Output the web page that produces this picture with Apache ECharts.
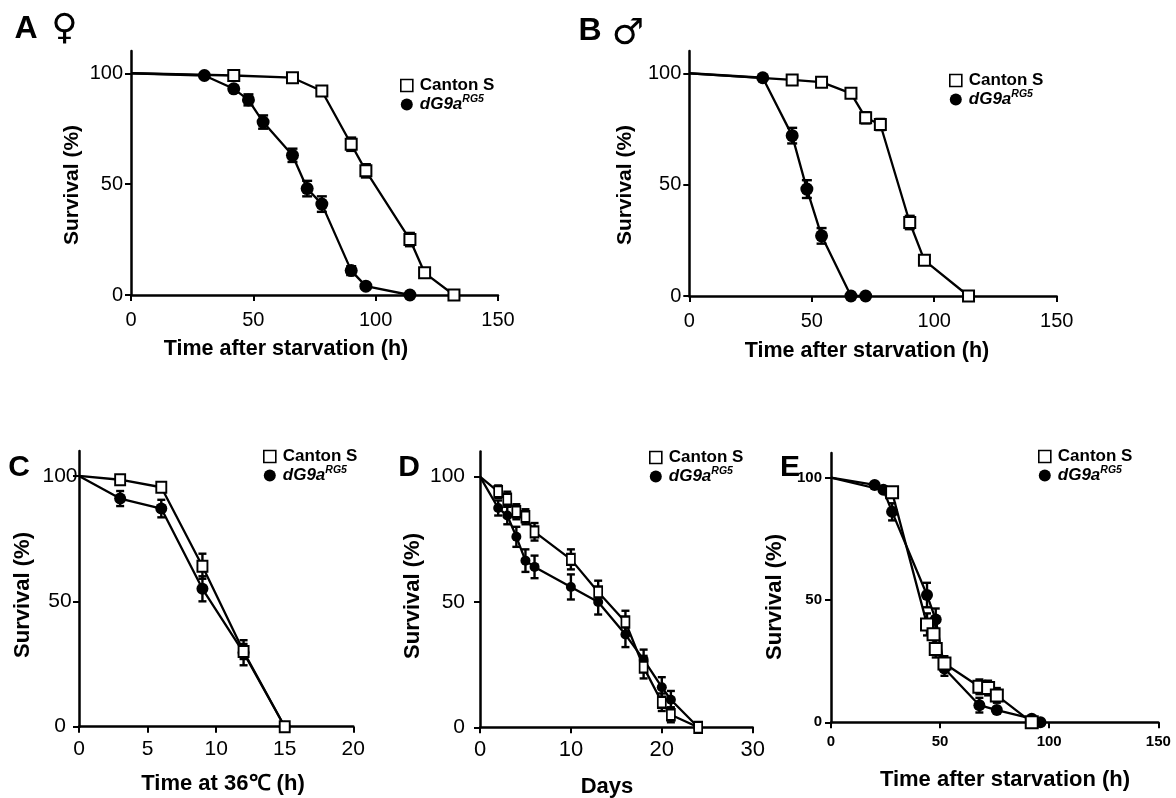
<!DOCTYPE html>
<html>
<head>
<meta charset="utf-8">
<script src="https://cdn.jsdelivr.net/npm/echarts@6/dist/echarts.min.js"></script>
<style>
html,body{margin:0;padding:0;background:#fff;}
#chart{width:1176px;height:798px;}
</style>
</head>
<body>
<div id="chart"></div>
<script>
// ---------- DATA ----------
const seriesNames = ['Canton S', 'dG9a'];

// Panel A (female, starvation)
const aTimeCS = [0, 42, 66, 78, 90, 96, 114, 120, 132];
const aSurvCS = [100, 99, 98, 92, 68, 56, 25, 10, 0];
const aErrCS  = [0, 1, 1, 1.5, 3, 3, 3, 1.5, 0];
const aTimeG9 = [0, 30, 42, 48, 54, 66, 72, 78, 90, 96, 114];
const aSurvG9 = [100, 99, 93, 88, 78, 63, 48, 41, 11, 4, 0];
const aErrG9  = [0, 0.5, 1, 2.5, 3, 3, 3.5, 3.5, 2, 0.5, 0];

// Panel B (male, starvation)
const bTimeCS = [0, 42, 54, 66, 72, 78, 90, 96, 114];
const bSurvCS = [100, 97, 96, 91, 80, 77, 33, 16, 0];
const bErrCS  = [0, 1, 1, 1.5, 2.5, 2.5, 3, 2, 0];
const bTimeG9 = [0, 30, 42, 48, 54, 66, 72];
const bSurvG9 = [100, 98, 72, 48, 27, 0, 0];
const bErrG9  = [0, 0.5, 3.5, 4, 3.5, 0, 0];

// Panel C (36 °C)
const cTimeCS = [0, 3, 6, 9, 12, 15];
const cSurvCS = [100, 98.5, 95.5, 64, 30, 0];
const cErrCS  = [0, 1.5, 1.5, 5, 3, 0];
const cTimeG9 = [0, 3, 6, 9, 12, 15];
const cSurvG9 = [100, 91, 87, 55, 29.5, 0];
const cErrG9  = [0, 3, 3.5, 5, 5, 0];

// Panel D (days)
const dTimeCS = [0, 2, 3, 4, 5, 6, 10, 13, 16, 18, 20, 21, 24];
const dSurvCS = [100, 94, 91, 86, 84, 78, 67, 54, 42, 24, 10, 5, 0];
const dErrCS  = [0, 2.5, 3, 3, 3, 3.5, 4, 4.5, 4.5, 4.5, 3.5, 3, 0];
const dTimeG9 = [0, 2, 3, 4, 5, 6, 10, 13, 16, 18, 20, 21, 24];
const dSurvG9 = [100, 87.5, 84.5, 76, 66.5, 64, 56, 50, 37, 27, 16, 11, 0];
const dErrG9  = [0, 3, 3.5, 4, 4.5, 4.5, 5, 5, 5, 4, 4, 3.5, 0];

// Panel E (starvation)
const eTimeCS = [0, 28, 44, 47, 48, 52, 68, 72, 76, 92];
const eSurvCS = [100, 94, 40, 36, 30, 24, 14.5, 14, 11, 0];
const eErrCS  = [0, 1, 4.5, 4, 3.5, 3, 3, 3, 3, 0];
const eTimeG9 = [0, 20, 24, 28, 44, 48, 52, 68, 76, 92, 96];
const eSurvG9 = [100, 97, 95, 86, 52, 42, 22, 7, 5, 1.5, 0];
const eErrG9  = [0, 0.5, 0.5, 3.5, 5, 4.5, 3, 3, 1, 0.5, 0];

// Axis ticks
const yTicks = [0, 50, 100];
const xTicksStarv = [0, 50, 100, 150];
const xTicksC = [0, 5, 10, 15, 20];
const xTicksD = [0, 10, 20, 30];

// Text
const yTitle = 'Survival (%)';
const xTitleStarv = 'Time after starvation (h)';
const xTitleC = 'Time at 36\u2103 (h)';
const xTitleD = 'Days';

// ---------- LAYOUT / STYLE ----------
const FONT = "'Liberation Sans', Arial, sans-serif";

const panels = [
  {grid:{left:131, top:51.1, width:367, height:243.9}, xMax:150, xInt:50, xTicks:xTicksStarv,
   cs:[aTimeCS,aSurvCS,aErrCS], g9:[aTimeG9,aSurvG9,aErrG9],
   yLab:{size:20, weight:'normal', margin:8, align:'right'}, xLab:{size:20, weight:'normal', margin:15},
   sq:[11,11], circ:13, cap:5,
   legend:{left:400, top:77}},
  {grid:{left:689.3, top:51, width:367.4, height:245}, xMax:150, xInt:50, xTicks:xTicksStarv,
   cs:[bTimeCS,bSurvCS,bErrCS], g9:[bTimeG9,bSurvG9,bErrG9],
   yLab:{size:20, weight:'normal', margin:8, align:'right'}, xLab:{size:20, weight:'normal', margin:15},
   sq:[11,11], circ:13, cap:5,
   legend:{left:949, top:72}},
  {grid:{left:79, top:450.9, width:274.3, height:275.8}, xMax:20, xInt:5, xTicks:xTicksC,
   cs:[cTimeCS,cSurvCS,cErrCS], g9:[cTimeG9,cSurvG9,cErrG9],
   yLab:{size:21, weight:'normal', margin:19, align:'center'}, xLab:{size:21, weight:'normal', margin:12},
   sq:[10,11], circ:12, cap:4,
   legend:{left:263, top:448}},
  {grid:{left:480, top:451.6, width:272.7, height:275.7}, xMax:30, xInt:10, xTicks:xTicksD,
   cs:[dTimeCS,dSurvCS,dErrCS], g9:[dTimeG9,dSurvG9,dErrG9],
   yLab:{size:21, weight:'normal', margin:15, align:'right'}, xLab:{size:22, weight:'normal', margin:12},
   sq:[8,11], circ:10, cap:4,
   legend:{left:649, top:449}},
  {grid:{left:831, top:453.1, width:327.3, height:269.2}, xMax:150, xInt:50, xTicks:xTicksStarv,
   cs:[eTimeCS,eSurvCS,eErrCS], g9:[eTimeG9,eSurvG9,eErrG9],
   yLab:{size:15, weight:'bold', margin:9, align:'right'}, xLab:{size:15, weight:'bold', margin:12},
   sq:[12,12], circ:12, cap:4,
   legend:{left:1038, top:448}}
];

function pairs(xs, ys, es) {
  return xs.map((x, i) => es ? [x, ys[i], es[i]] : [x, ys[i]]);
}

function renderErr(params, api) {
  const x = api.value(0), y = api.value(1), e = api.value(2);
  if (!e) return null;
  const top = api.coord([x, y + e]);
  const bot = api.coord([x, y - e]);
  const st = {stroke:'#000', lineWidth:2.4};
  const half = api.value(3);
  return {type:'group', children:[
    {type:'line', shape:{x1:top[0], y1:top[1], x2:bot[0], y2:bot[1]}, style:st},
    {type:'line', shape:{x1:top[0]-half, y1:top[1], x2:top[0]+half, y2:top[1]}, style:st},
    {type:'line', shape:{x1:bot[0]-half, y1:bot[1], x2:bot[0]+half, y2:bot[1]}, style:st}
  ]};
}

const grids = [], xAxes = [], yAxes = [], series = [], legends = [];

panels.forEach((p, i) => {
  grids.push(Object.assign({containLabel:false}, p.grid));
  xAxes.push({
    type:'value', gridIndex:i, min:0, max:p.xMax, interval:p.xInt,
    axisLine:{show:true, onZero:false, lineStyle:{color:'#000', width:2.5}},
    axisTick:{show:true, length:6, inside:false, lineStyle:{color:'#000', width:2}},
    axisLabel:{show:true, color:'#000', fontFamily:FONT, fontSize:p.xLab.size, fontWeight:p.xLab.weight, margin:p.xLab.margin,
               showMinLabel:true, showMaxLabel:true},
    splitLine:{show:false}
  });
  yAxes.push({
    type:'value', gridIndex:i, min:0, max:110,
    axisLine:{show:true, onZero:false, lineStyle:{color:'#000', width:2.5}},
    axisTick:{show:true, length:6, lineStyle:{color:'#000', width:2}, customValues:yTicks},
    axisLabel:{show:true, color:'#000', fontFamily:FONT, fontSize:p.yLab.size, fontWeight:p.yLab.weight, margin:p.yLab.margin,
               align:p.yLab.align, customValues:yTicks},
    splitLine:{show:false}
  });

  // error bars
  const errCS = pairs(p.cs[0], p.cs[1], p.cs[2]).map(d => d.concat([p.cap]));
  const errG9 = pairs(p.g9[0], p.g9[1], p.g9[2]).map(d => d.concat([p.cap]));
  series.push({type:'custom', name:seriesNames[1], xAxisIndex:i, yAxisIndex:i, z:1, clip:false,
    renderItem:renderErr, encode:{x:0, y:1}, data:errG9, silent:true});
  series.push({type:'custom', name:seriesNames[0], xAxisIndex:i, yAxisIndex:i, z:1, clip:false,
    renderItem:renderErr, encode:{x:0, y:1}, data:errCS, silent:true});

  // dG9a circles
  series.push({
    type:'line', name:seriesNames[1], xAxisIndex:i, yAxisIndex:i, z:3, clip:false,
    symbol:'circle', symbolSize:p.circ, showAllSymbol:true,
    itemStyle:{color:'#000', borderColor:'#000', borderWidth:0},
    lineStyle:{color:'#000', width:2.3},
    data:pairs(p.g9[0], p.g9[1]).map(d => d[0] === 0 ? {value:d, symbolSize:0} : d),
    animation:false
  });
  // Canton S squares
  series.push({
    type:'line', name:seriesNames[0], xAxisIndex:i, yAxisIndex:i, z:4, clip:false,
    symbol:'rect', symbolSize:p.sq, showAllSymbol:true,
    itemStyle:{color:'#fff', borderColor:'#000', borderWidth:2},
    lineStyle:{color:'#000', width:2.3},
    data:pairs(p.cs[0], p.cs[1]).map(d => d[0] === 0 ? {value:d, symbolSize:0} : d),
    animation:false
  });

  legends.push({
    orient:'vertical', left:p.legend.left, top:p.legend.top, padding:0,
    itemWidth:12, itemHeight:12, itemGap:0, selectedMode:false,
    data:[
      {name:seriesNames[0], icon:'rect', itemStyle:{color:'#fff', borderColor:'#000', borderWidth:1.6}},
      {name:seriesNames[1], icon:'circle', itemStyle:{color:'#000', borderWidth:0}}
    ],
    formatter: n => n === 'dG9a' ? '{i|dG9a}{s|RG5}' : '{b|Canton S}',
    textStyle:{
      color:'#000', fontFamily:FONT, fontSize:17, fontWeight:'bold', padding:[0,0,0,2],
      rich:{
        b:{fontFamily:FONT, fontSize:17, fontWeight:'bold', lineHeight:21, color:'#000'},
        i:{fontFamily:FONT, fontSize:17, fontWeight:'bold', fontStyle:'italic', lineHeight:21, color:'#000'},
        s:{fontFamily:FONT, fontSize:10.5, fontWeight:'bold', fontStyle:'italic', lineHeight:13, verticalAlign:'top', color:'#000'}
      }
    }
  });
});

function txt(text, x, y, size, weight, rot, family) {
  return {type:'text', x:x, y:y, rotation:rot || 0, silent:true,
    style:{text:text, fill:'#000', font:(weight||'bold') + ' ' + size + 'px ' + (family || FONT),
           align:'center', verticalAlign:'middle'}};
}

const SYMFONT = "'DejaVu Sans', sans-serif";
const graphics = [
  // panel labels
  txt('A', 26, 29, 32, 'bold'),
  txt('\u2640', 64.5, 30, 36, 'normal', 0, SYMFONT),
  txt('B', 590, 31, 32, 'bold'),
  txt('\u2642', 628, 35, 36, 'normal', 0, SYMFONT),
  txt('C', 19, 468, 30, 'bold'),
  txt('D', 409, 468, 30, 'bold'),
  txt('E', 790, 468, 30, 'bold'),
  // y titles
  txt(yTitle, 72, 185, 21, 'bold', Math.PI/2),
  txt(yTitle, 625, 185, 21, 'bold', Math.PI/2),
  txt(yTitle, 23, 595, 22, 'bold', Math.PI/2),
  txt(yTitle, 413, 596, 22, 'bold', Math.PI/2),
  txt(yTitle, 775, 597, 22, 'bold', Math.PI/2),
  // x titles
  txt(xTitleStarv, 286, 349, 21.5, 'bold'),
  txt(xTitleStarv, 867, 351, 21.5, 'bold'),
  txt(xTitleC, 223, 784, 22, 'bold'),
  txt(xTitleD, 607, 787, 22, 'bold'),
  txt(xTitleStarv, 1005, 780, 22, 'bold')
];

const chart = echarts.init(document.getElementById('chart'), null, {renderer:'canvas'});
chart.setOption({
  backgroundColor:'#fff',
  animation:false,
  grid:grids, xAxis:xAxes, yAxis:yAxes, series:series, legend:legends,
  graphic:graphics
});
</script>
</body>
</html>
